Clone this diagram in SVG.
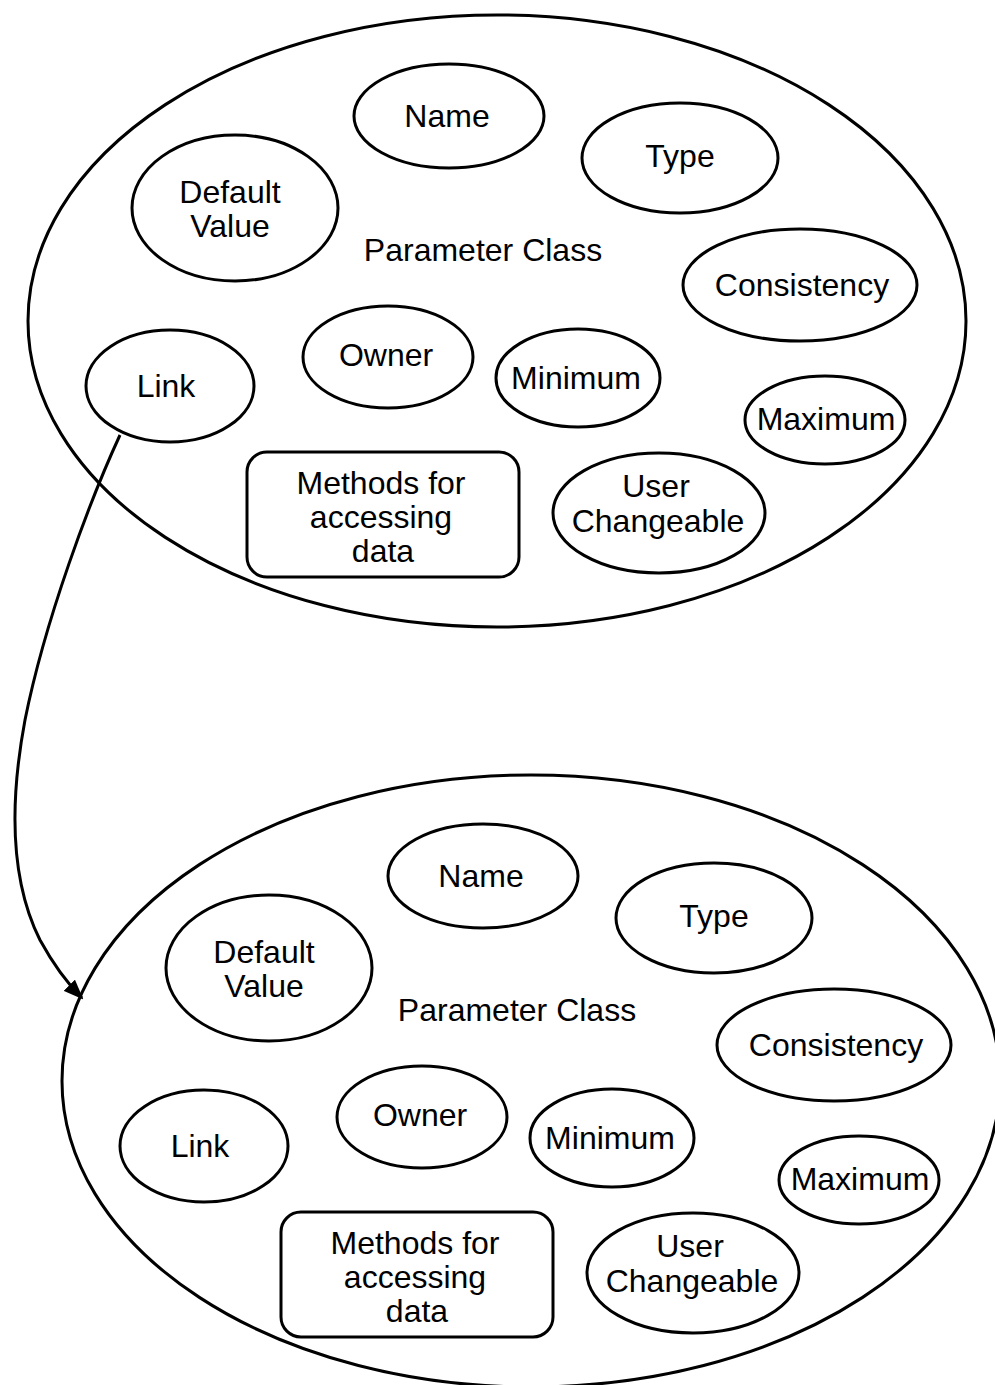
<svg xmlns="http://www.w3.org/2000/svg" width="995" height="1385" viewBox="0 0 995 1385">
<defs>
<style>
.big{fill:none;stroke:#000;stroke-width:3}
.n{fill:#fff;stroke:#000;stroke-width:3}
.t{font-family:"Liberation Sans",Arial,sans-serif;font-size:32px;fill:#000;text-anchor:middle}
.c{fill:none;stroke:#000;stroke-width:3}
</style>
<marker id="arr" markerWidth="20" markerHeight="16" refX="18" refY="8" orient="auto" markerUnits="userSpaceOnUse">
<path d="M0,0 L20,8 L0,16 Z" fill="#000"/>
</marker>
</defs>
<rect width="995" height="1385" fill="#fff"/>
<g id="class-top">
<g id="top-class"><ellipse class="big" cx="497" cy="321" rx="469" ry="306"/><text class="t" x="483" y="261">Parameter Class</text></g>
<g id="top-name"><ellipse class="n" cx="449" cy="116" rx="95" ry="52"/><text class="t" x="447" y="127">Name</text></g>
<g id="top-type"><ellipse class="n" cx="680" cy="158" rx="98" ry="55"/><text class="t" x="680" y="167">Type</text></g>
<g id="top-default"><ellipse class="n" cx="235" cy="208" rx="103" ry="73"/><text class="t" x="230" y="203">Default</text><text class="t" x="230" y="237">Value</text></g>
<g id="top-consistency"><ellipse class="n" cx="800" cy="285" rx="117" ry="56"/><text class="t" x="802" y="296">Consistency</text></g>
<g id="top-link"><ellipse class="n" cx="170" cy="386" rx="84" ry="56"/><text class="t" x="166" y="397">Link</text></g>
<g id="top-owner"><ellipse class="n" cx="388" cy="357" rx="85" ry="51"/><text class="t" x="386" y="366">Owner</text></g>
<g id="top-minimum"><ellipse class="n" cx="578" cy="378" rx="82" ry="49"/><text class="t" x="576" y="389">Minimum</text></g>
<g id="top-maximum"><ellipse class="n" cx="825" cy="420" rx="80" ry="44"/><text class="t" x="826" y="430">Maximum</text></g>
<g id="top-user"><ellipse class="n" cx="659" cy="513" rx="106" ry="60"/><text class="t" x="656" y="497">User</text><text class="t" x="658" y="532">Changeable</text></g>
<g id="top-methods"><rect class="n" x="247" y="452" width="272" height="125" rx="20"/><text class="t" x="381" y="494">Methods for</text><text class="t" x="381" y="528">accessing</text><text class="t" x="383" y="562">data</text></g>
</g>
<g id="class-bottom" transform="translate(34,760)">
<g id="bot-class"><ellipse class="big" cx="497" cy="321" rx="469" ry="306"/><text class="t" x="483" y="261">Parameter Class</text></g>
<g id="bot-name"><ellipse class="n" cx="449" cy="116" rx="95" ry="52"/><text class="t" x="447" y="127">Name</text></g>
<g id="bot-type"><ellipse class="n" cx="680" cy="158" rx="98" ry="55"/><text class="t" x="680" y="167">Type</text></g>
<g id="bot-default"><ellipse class="n" cx="235" cy="208" rx="103" ry="73"/><text class="t" x="230" y="203">Default</text><text class="t" x="230" y="237">Value</text></g>
<g id="bot-consistency"><ellipse class="n" cx="800" cy="285" rx="117" ry="56"/><text class="t" x="802" y="296">Consistency</text></g>
<g id="bot-link"><ellipse class="n" cx="170" cy="386" rx="84" ry="56"/><text class="t" x="166" y="397">Link</text></g>
<g id="bot-owner"><ellipse class="n" cx="388" cy="357" rx="85" ry="51"/><text class="t" x="386" y="366">Owner</text></g>
<g id="bot-minimum"><ellipse class="n" cx="578" cy="378" rx="82" ry="49"/><text class="t" x="576" y="389">Minimum</text></g>
<g id="bot-maximum"><ellipse class="n" cx="825" cy="420" rx="80" ry="44"/><text class="t" x="826" y="430">Maximum</text></g>
<g id="bot-user"><ellipse class="n" cx="659" cy="513" rx="106" ry="60"/><text class="t" x="656" y="497">User</text><text class="t" x="658" y="532">Changeable</text></g>
<g id="bot-methods"><rect class="n" x="247" y="452" width="272" height="125" rx="20"/><text class="t" x="381" y="494">Methods for</text><text class="t" x="381" y="528">accessing</text><text class="t" x="383" y="562">data</text></g>
</g>
<g id="connectors">
<path class="c" d="M120,435 C90,500 45,620 25,720 C10,800 10,880 40,940 C52,962 66,982 82,998" marker-end="url(#arr)"/>
</g>
</svg>
